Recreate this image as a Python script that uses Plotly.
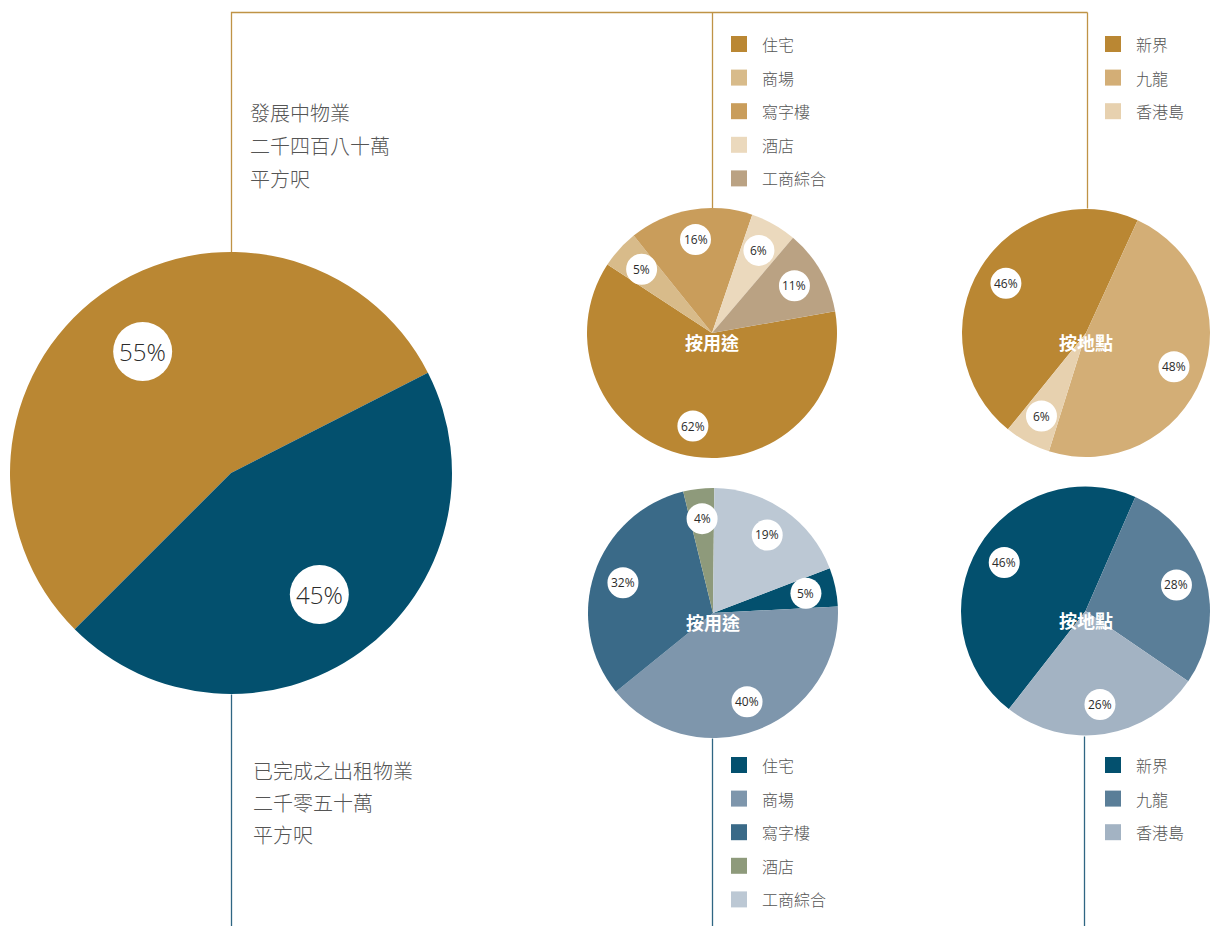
import math
import plotly.graph_objects as go

W, H = 1210, 926

# ---- data -------------------------------------------------------------
portfolio_labels = ["發展中物業", "已完成之出租物業"]
portfolio_values = [55, 45]
portfolio_colors = ["#BA8733", "#03506E"]
dev_note = ["發展中物業", "二千四百八十萬", "平方呎"]
rental_note = ["已完成之出租物業", "二千零五十萬", "平方呎"]

use_labels = ["住宅", "商場", "寫字樓", "酒店", "工商綜合"]
dev_use_values = [62, 5, 16, 6, 11]
dev_use_colors = ["#BA8733", "#D8BB8A", "#C99D5B", "#EBD9BD", "#BAA283"]
rental_use_values = [5, 40, 32, 4, 19]
rental_use_colors = ["#03506E", "#7E96AC", "#3A6A88", "#8E9A7B", "#BCC8D4"]

location_labels = ["新界", "九龍", "香港島"]
dev_loc_values = [46, 48, 6]
dev_loc_colors = ["#BA8733", "#D3AE76", "#E7D1AF"]
rental_loc_values = [46, 28, 26]
rental_loc_colors = ["#03506E", "#5A7E98", "#A3B3C3"]

use_title = "按用途"
loc_title = "按地點"

# ---- styling ------------------------------------------------------------
CJK = "Noto Sans CJK TC"
NUM = "Open Sans"
TEXT_GREY = "#555555"
GOLD_LINE = "#BF9346"
BLUE_LINE = "#2F6683"

fig = go.Figure()
shapes = []
annotations = []


def add_pie(name, labels, values, colors, cx, cy, r, rotation,
            label_frac, bubble_r, font_size, font_weight, title=None):
    """Pie placed by pixel centre/radius, with white value bubbles."""
    x0, x1 = max(0, cx - r), min(W, cx + r)
    y0, y1 = max(0, cy - r), min(H, cy + r)
    fig.add_trace(go.Pie(
        name=name, labels=labels, values=values, sort=False,
        direction="clockwise", rotation=rotation,
        marker=dict(colors=colors, line=dict(width=0)),
        textinfo="none", hoverinfo="label+percent", showlegend=False,
        domain=dict(x=[x0 / W, x1 / W], y=[1 - y1 / H, 1 - y0 / H]),
    ))
    # effective geometry after clamping to the page
    ecx, ecy = (x0 + x1) / 2, (y0 + y1) / 2
    er = min(x1 - x0, y1 - y0) / 2
    total = sum(values)
    cum = 0
    for v in values:
        theta = math.radians(rotation + (cum + v / 2) / total * 360)
        cum += v
        bx = ecx + label_frac * er * math.sin(theta)
        by = ecy - label_frac * er * math.cos(theta)
        shapes.append(dict(type="circle", xref="x", yref="y", layer="above",
                           x0=bx - bubble_r, x1=bx + bubble_r,
                           y0=by - bubble_r, y1=by + bubble_r,
                           fillcolor="white", line=dict(width=0)))
        annotations.append(dict(x=bx, y=by, xref="x", yref="y",
                                text=f"{v}%", showarrow=False,
                                font=dict(family=NUM, size=font_size,
                                          color="#2b2b2b", weight=font_weight)))
    if title:
        annotations.append(dict(x=ecx, y=ecy + 9, xref="x", yref="y",
                                text=f"<b>{title}</b>", showarrow=False,
                                font=dict(family=CJK, size=18, color="white")))
    return ecx, ecy, er


def add_line(xs, ys, color):
    # half-pixel offset keeps 1px rules crisp
    fig.add_trace(go.Scatter(x=[v + 0.5 for v in xs], y=[v + 0.5 for v in ys],
                             mode="lines", hoverinfo="skip",
                             line=dict(color=color, width=1.3), showlegend=False))


def add_legend(labels, colors, x, y_start, step):
    ys = [y_start + i * step for i in range(len(labels))]
    fig.add_trace(go.Scatter(x=[x] * len(labels), y=ys, mode="markers",
                             hoverinfo="skip", showlegend=False,
                             marker=dict(symbol="square", size=16, color=colors,
                                         line=dict(width=0))))
    for lab, yy in zip(labels, ys):
        annotations.append(dict(x=x + 21, y=yy, xref="x", yref="y", text=lab,
                                showarrow=False, xanchor="left",
                                font=dict(family=CJK, size=16, color=TEXT_GREY,
                                          weight=300)))


# ---- connector lines (drawn first, beneath the pies) ---------------------
BIG = (231, 473, 221)
DU = (712, 333, 125)
DL = (1087, 333, 125)
RU = (713, 613, 125)
RL = (1086, 611, 125)
TOP_Y = 12

add_line([BIG[0], BIG[0], DL[0]], [BIG[1] - BIG[2], TOP_Y, TOP_Y], GOLD_LINE)
add_line([DU[0], DU[0]], [TOP_Y, DU[1] - DU[2]], GOLD_LINE)
add_line([DL[0], DL[0]], [TOP_Y, DL[1] - DL[2]], GOLD_LINE)
add_line([BIG[0], BIG[0]], [BIG[1] + BIG[2], H], BLUE_LINE)
add_line([RU[0] - 1, RU[0] - 1], [RU[1] + RU[2], H], BLUE_LINE)
add_line([RL[0] - 2, RL[0] - 2], [RL[1] + RL[2], H], BLUE_LINE)

# ---- pies -----------------------------------------------------------------
add_pie("物業組合", portfolio_labels, portfolio_values, portfolio_colors,
        *BIG, rotation=225, label_frac=0.68, bubble_r=29.5, font_size=24, font_weight=300)
add_pie("發展中物業按用途", use_labels, dev_use_values, dev_use_colors,
        *DU, rotation=80, label_frac=0.76, bubble_r=15.5, font_size=12,
        font_weight=400, title=use_title)
add_pie("發展中物業按地點", location_labels, dev_loc_values, dev_loc_colors,
        *DL, rotation=219, label_frac=0.76, bubble_r=15.5, font_size=12,
        font_weight=400, title=loc_title)
add_pie("出租物業按用途", use_labels, rental_use_values, rental_use_colors,
        *RU, rotation=69, label_frac=0.76, bubble_r=15.5, font_size=12,
        font_weight=400, title=use_title)
add_pie("出租物業按地點", location_labels, rental_loc_values, rental_loc_colors,
        *RL, rotation=218, label_frac=0.76, bubble_r=15.5, font_size=12,
        font_weight=400, title=loc_title)

# ---- legends ----------------------------------------------------------------
add_legend(use_labels, dev_use_colors, 739, 44, 33.6)
add_legend(location_labels, dev_loc_colors, 1113, 44, 33.6)
add_legend(use_labels, rental_use_colors, 739, 765, 33.6)
add_legend(location_labels, rental_loc_colors, 1113, 765, 33.6)

# ---- headline notes ------------------------------------------------------------
for i, line in enumerate(dev_note):
    annotations.append(dict(x=248, y=112 + i * 33, xref="x", yref="y", text=line,
                            showarrow=False, xanchor="left",
                            font=dict(family=CJK, size=20, color=TEXT_GREY, weight=300)))
for i, line in enumerate(rental_note):
    annotations.append(dict(x=251, y=770 + i * 32, xref="x", yref="y", text=line,
                            showarrow=False, xanchor="left",
                            font=dict(family=CJK, size=20, color=TEXT_GREY, weight=300)))

fig.update_layout(
    width=W, height=H, margin=dict(l=0, r=0, t=0, b=0),
    paper_bgcolor="white", plot_bgcolor="white",
    xaxis=dict(range=[0, W], visible=False, fixedrange=True, domain=[0, 1]),
    yaxis=dict(range=[H, 0], visible=False, fixedrange=True, domain=[0, 1]),
    shapes=shapes, annotations=annotations, showlegend=False,
)

fig.write_html("out.html")
